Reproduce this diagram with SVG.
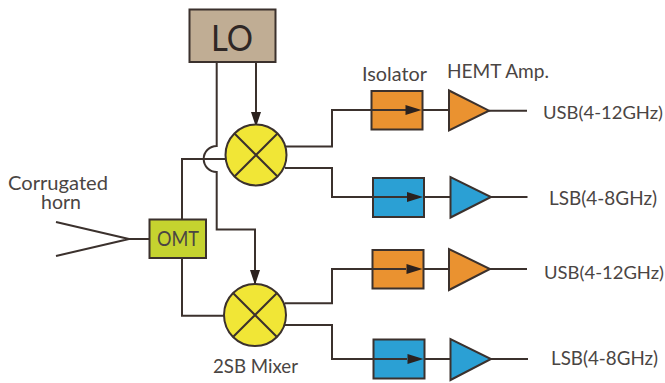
<svg xmlns="http://www.w3.org/2000/svg" width="665" height="383" viewBox="0 0 665 383">
<style>
text{font-family:Lato,"Noto Sans","Liberation Sans",sans-serif;fill:#4a4543;font-size:20px;text-anchor:start}
.u{font-size:18px}
.c{fill:none;stroke:#3b312d;stroke-width:2}
.n{stroke:#3b312d;stroke-width:2}
.org{fill:#ea9230}.blu{fill:#2ba0d4}.mix{fill:#f1e636}
</style>
<defs>
<marker id="a" markerUnits="userSpaceOnUse" markerWidth="16" markerHeight="10" refX="15" refY="5" orient="auto"><path d="M0 0L15 5L0 10Z" fill="#2b211e"/></marker>
</defs>
<g id="connectors">
<path class="c" d="M256 62V127" marker-end="url(#a)"/>
<path class="c" d="M216.700 62V146A13 13 0 0 0 216.700 172V229.500H255V285" marker-end="url(#a)"/>
<path class="c" d="M182 219V159H226"/>
<path class="c" d="M182 258V315.700H225"/>
<path class="c" d="M129 239H149M56 222L129 239L56 256"/>
<path class="c" d="M286 146.500H332V110H371.500"/>
<path class="c" d="M285 168H332V197H373"/>
<path class="c" d="M285 303.300H332V269H372.500"/>
<path class="c" d="M285 325H332V359H373.500"/>
<path class="c" d="M422 110H449M489 110.700H527M424 197H450M491 197H527.500M423 269H449M490 269H527M424 359H450M491 359H528"/>
</g>
<g id="lo"><rect class="n" x="189.500" y="9.500" width="86" height="52.500" fill="#c0ad94"/><text x="211" y="51" style="font-size:37px;fill:#2f2725" textLength="42" lengthAdjust="spacingAndGlyphs">LO</text></g>
<g id="mixer1"><circle class="n mix" cx="256" cy="155" r="30.500"/><path class="c" d="M234.500 133.500L277.500 176.500M277.500 133.500L234.500 176.500"/></g>
<g id="mixer2"><circle class="n mix" cx="255" cy="315" r="31"/><path class="c" d="M233.500 293.500L276.500 336.500M276.500 293.500L233.500 336.500"/><text x="213" y="373" textLength="85" lengthAdjust="spacingAndGlyphs">2SB Mixer</text></g>
<g id="omt"><rect class="n" x="149.500" y="219.500" width="56.500" height="38.500" fill="#c5d32f"/><text x="157" y="246" style="font-size:21px" textLength="42" lengthAdjust="spacingAndGlyphs">OMT</text></g>
<g id="horn"><text><tspan x="8" y="190" textLength="100" lengthAdjust="spacingAndGlyphs">Corrugated</tspan><tspan x="41" y="209" textLength="40" lengthAdjust="spacingAndGlyphs">horn</tspan></text></g>
<g id="iso1"><rect class="n org" x="371.500" y="91" width="51" height="38.500"/><path class="c" d="M371.500 110H406"/><path d="M405.500 105L421.500 110L405.500 115Z" fill="#2b211e"/></g>
<g id="iso2"><rect class="n blu" x="373" y="178" width="51" height="39"/><path class="c" d="M373 197H407"/><path d="M407 192L423 197L407 202Z" fill="#2b211e"/></g>
<g id="iso3"><rect class="n org" x="372.500" y="250" width="51" height="38.500"/><path class="c" d="M372.500 269H406"/><path d="M406.500 264L422.500 269L406.500 274Z" fill="#2b211e"/></g>
<g id="iso4"><rect class="n blu" x="373.500" y="339.500" width="51" height="39"/><path class="c" d="M373.500 359H407"/><path d="M407.500 354L423.500 359L407.500 364Z" fill="#2b211e"/></g>
<g id="amp1"><path class="n org" d="M449 90.500V130.500L489 110.700Z"/></g>
<g id="amp2"><path class="n blu" d="M450.500 177V217.500L491 197Z"/></g>
<g id="amp3"><path class="n org" d="M449 249V290L490 269Z"/></g>
<g id="amp4"><path class="n blu" d="M450.500 339V380L491 359Z"/></g>
<g id="labels">
<text x="362" y="81" textLength="65" lengthAdjust="spacingAndGlyphs">Isolator</text>
<text x="447" y="78" textLength="102" lengthAdjust="spacingAndGlyphs">HEMT Amp.</text>
<text class="u" x="543" y="119" textLength="120" lengthAdjust="spacingAndGlyphs">USB(4-12GHz)</text>
<text x="549" y="205" textLength="108" lengthAdjust="spacingAndGlyphs">LSB(4-8GHz)</text>
<text class="u" x="544" y="279" textLength="120" lengthAdjust="spacingAndGlyphs">USB(4-12GHz)</text>
<text x="551" y="365" textLength="107" lengthAdjust="spacingAndGlyphs">LSB(4-8GHz)</text>
</g>
</svg>
